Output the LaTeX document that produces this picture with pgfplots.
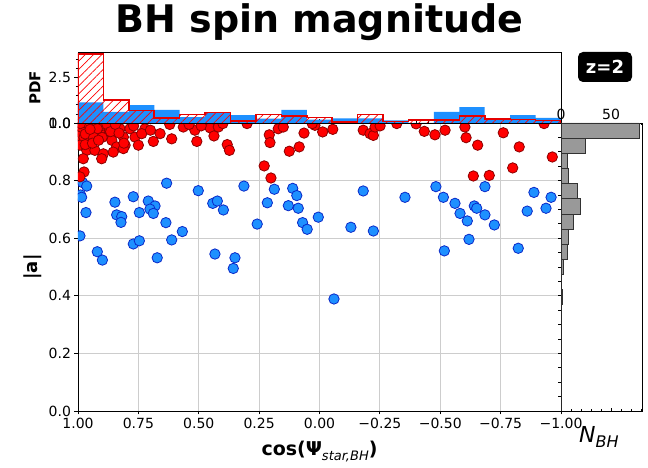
\documentclass[border=0pt]{standalone}
\usepackage{fontspec}
\setmainfont{DejaVu Sans}
\usepackage{pgfplots}
\pgfplotsset{compat=1.18}
\usetikzlibrary{patterns.meta}
\definecolor{dblue}{RGB}{30,144,255}
\definecolor{dblueedge}{RGB}{10,40,200}
\definecolor{redge}{RGB}{140,0,0}
\definecolor{hgray}{RGB}{153,153,153}
\definecolor{hedge}{RGB}{50,50,50}
\definecolor{gridc}{RGB}{205,205,205}
\pgfplotsset{
  every axis/.append style={scale only axis,
    axis line style={line width=0.9bp},
    tick style={line width=0.8bp, black},
    major tick length=3.5bp, minor tick length=2bp,
    tick label style={font=\fontsize{14bp}{16bp}\selectfont},
    /pgf/number format/assume math mode=true},
}
\begin{document}
\begin{tikzpicture}
\path[use as bounding box] (0,0) rectangle (648bp,468bp);

% ---------------- main scatter ----------------
\begin{axis}[at={(78bp,57bp)}, anchor=south west, width=483bp, height=288bp,
  xmin=-1, xmax=1, ymin=0, ymax=1, x dir=reverse,
  xtick={-1,-0.75,-0.5,-0.25,0,0.25,0.5,0.75,1},
  xticklabels={−1.00,−0.75,−0.50,−0.25,0.00,0.25,0.50,0.75,1.00},
  ytick={0,0.2,0.4,0.6,0.8,1},
  yticklabels={0.0,0.2,0.4,0.6,0.8,1.0},
  tick align=outside, tick pos=left,
  grid=major, grid style={gridc, line width=0.8bp},
  clip mode=individual, clip marker paths=true]
\addplot[only marks, mark=*, mark size=5.2bp, mark options={fill=dblue, draw=dblueedge, line width=0.8bp}] coordinates {
(0.981,0.793) (0.633,0.791) (0.964,0.781) (0.989,0.750) (0.985,0.742) (0.771,0.744)
(0.502,0.765) (0.313,0.781) (0.187,0.770) (0.111,0.773) (0.094,0.748) (-0.181,0.764)
(-0.354,0.742) (-0.482,0.779) (-0.513,0.742) (-0.685,0.779) (-0.888,0.759) (-0.959,0.742)
(0.967,0.689) (0.847,0.725) (0.746,0.689) (0.709,0.729) (0.681,0.712) (0.702,0.701)
(0.688,0.686) (0.442,0.721) (0.423,0.729) (0.398,0.698) (0.216,0.723) (0.129,0.713)
(0.088,0.704) (-0.561,0.721) (-0.582,0.686) (-0.641,0.712) (-0.651,0.704) (-0.860,0.694)
(-0.938,0.704) (0.840,0.681) (0.819,0.675) (0.822,0.655) (0.636,0.654) (0.258,0.649)
(0.070,0.654) (0.005,0.673) (-0.130,0.638) (-0.612,0.660) (-0.685,0.681) (-0.724,0.646)
(0.992,0.608) (0.771,0.580) (0.746,0.591) (0.612,0.594) (0.568,0.623) (0.051,0.631)
(-0.223,0.625) (-0.619,0.596) (0.920,0.553) (0.672,0.532) (0.433,0.545) (0.350,0.532)
(-0.517,0.556) (-0.823,0.565) (0.899,0.524) (0.357,0.495) (-0.060,0.389)
};
\addplot[only marks, mark=*, mark size=5.2bp, mark options={fill=red, draw=redge, line width=0.8bp}] coordinates {
(0.978,0.986) (0.950,0.992) (0.916,0.986) (0.875,0.980) (0.854,0.986) (0.826,0.980)
(0.785,0.980) (0.723,0.980) (0.660,0.963) (0.612,0.945) (0.564,0.986) (0.516,0.975)
(0.508,0.936) (0.950,0.945) (0.902,0.957) (0.860,0.959) (0.860,0.940) (0.812,0.951)
(0.764,0.951) (0.736,0.963) (0.688,0.936) (0.750,0.923) (0.805,0.923) (0.840,0.917)
(0.964,0.905) (0.930,0.905) (0.812,0.911) (0.992,0.958) (0.854,0.899) (0.895,0.893)
(0.902,0.876) (0.978,0.876) (0.975,0.830) (0.992,0.813) (0.453,0.983) (0.419,0.986)
(0.437,0.955) (0.382,0.925) (0.373,0.905) (0.208,0.959) (0.205,0.932) (0.171,0.980)
(0.150,0.986) (0.064,0.965) (0.125,0.902) (0.084,0.917) (0.019,0.992) (-0.013,0.969)
(-0.055,0.978) (-0.181,0.975) (-0.209,0.963) (-0.223,0.957) (-0.230,0.986) (-0.251,0.990)
(0.229,0.851) (0.201,0.809) (-0.434,0.971) (-0.478,0.959) (-0.520,0.975) (-0.602,0.986)
(-0.607,0.949) (-0.655,0.923) (-0.761,0.966) (-0.827,0.917) (-0.964,0.882) (-0.800,0.844)
(-0.637,0.816) (-0.703,0.818)
(1.000,1.000) (0.995,0.990) (0.990,0.975) (0.985,0.965) (0.998,0.955) (0.970,0.995)
(0.965,0.975) (0.960,0.960) (0.955,0.970) (0.940,0.985) (0.935,0.965) (0.930,0.975)
(0.925,0.995) (0.920,0.960) (0.910,0.970) (0.905,0.990) (0.945,0.955) (0.975,0.950)
(0.985,0.985) (0.900,0.950) (0.960,0.998) (0.920,0.980) (0.970,0.962) (0.935,0.950)
(0.990,0.998) (0.992,0.923) (0.970,0.925) (0.940,0.930) (0.915,0.940) (0.950,0.978)
(0.880,0.995) (0.865,0.970) (0.845,0.995) (0.830,0.965) (0.810,0.930)
(0.770,0.990) (0.700,0.975) (0.620,0.995) (0.540,0.995) (0.490,0.990) (0.400,0.998)
(0.300,0.998) (0.030,0.998) (-0.320,0.998) (-0.400,0.997) (-0.930,0.998)
};
\end{axis}

% ---------------- top histogram ----------------
\begin{axis}[at={(78bp,345bp)}, anchor=south west, width=483bp, height=71bp,
  xmin=-1, xmax=1, ymin=0, ymax=3.92, x dir=reverse,
  axis background/.style={fill=white},
  xtick={-1,-0.75,-0.5,-0.25,0,0.25,0.5,0.75,1}, xticklabels={},
  minor x tick num=4,
  ytick={0,2.5}, yticklabels={0.0,2.5},
  minor ytick={0.5,1,1.5,2,3,3.5},
  tick pos=left, xtick align=inside, ytick align=outside]
\addplot[ybar interval, fill=dblue, draw=none] coordinates {
(-1,0.28) (-0.8947,0.44) (-0.7895,0.18) (-0.6842,0.88) (-0.5789,0.61) (-0.4737,0.0)
(-0.3684,0.15) (-0.2632,0.26) (-0.1579,0.26) (-0.0526,0.19) (0.0526,0.72) (0.1579,0.24)
(0.2632,0.44) (0.3684,0.57) (0.4737,0.33) (0.5789,0.72) (0.6842,0.99) (0.7895,0.61)
(0.8947,1.14) (1,1.14)
};
\addplot[ybar interval, draw=none, pattern={Lines[angle=45,distance=5.8bp,line width=0.7bp]}, pattern color=red] coordinates {
(-1,0.13) (-0.8947,0.20) (-0.7895,0.22) (-0.6842,0.37) (-0.5789,0.18) (-0.4737,0.15)
(-0.3684,0.08) (-0.2632,0.48) (-0.1579,0.07) (-0.0526,0.30) (0.0526,0.39) (0.1579,0.48)
(0.2632,0.11) (0.3684,0.57) (0.4737,0.46) (0.5789,0.28) (0.6842,0.68) (0.7895,1.27)
(0.8947,3.80) (1,3.80)
};
\addplot[red!90!black, line width=1.6bp, const plot] coordinates {
(-1,0) (-1,0.13) (-0.8947,0.20) (-0.7895,0.22) (-0.6842,0.37) (-0.5789,0.18) (-0.4737,0.15)
(-0.3684,0.08) (-0.2632,0.48) (-0.1579,0.07) (-0.0526,0.30) (0.0526,0.39) (0.1579,0.48)
(0.2632,0.11) (0.3684,0.57) (0.4737,0.46) (0.5789,0.28) (0.6842,0.68) (0.7895,1.27)
(0.8947,3.80) (1,3.80) (1,0)
};
\end{axis}

% ---------------- right histogram ----------------
\begin{axis}[at={(561bp,57bp)}, anchor=south west, width=81bp, height=288bp,
  xmin=0, xmax=81, ymin=0, ymax=1,
  xtick={0,50}, xticklabels={0,50}, minor xtick={10,20,30,40,60,70,80},
  xtick pos=both, xticklabel pos=right, xtick align=inside,
  ytick={0.05,0.1,0.15,0.2,0.25,0.3,0.35,0.4,0.45,0.5,0.55,0.6,0.65,0.7,0.75,0.8,0.85,0.9,0.95},
  yticklabels={}, ytick pos=left, ytick align=outside, major tick length=3bp]
\addplot[xbar interval, fill=hgray, draw=hedge, line width=0.8bp] coordinates {
(0,0) (0,0.05263) (0,0.10526) (0,0.15789) (0,0.21053) (0,0.26316) (0,0.31579)
(1,0.36842) (0,0.42105) (2,0.47368) (6,0.52632) (7,0.57895) (12,0.63158)
(19,0.68421) (16,0.73684) (7,0.78947) (6,0.84211) (24,0.89474) (78,0.94737) (78,1)
};
\end{axis}

% ---------------- texts ----------------
\node[anchor=base, font=\fontsize{38bp}{40bp}\selectfont\bfseries] at (319.5bp,435bp) {BH spin magnitude};
\node[fill=black, rounded corners=5bp, minimum width=54bp, minimum height=30bp, inner sep=0pt,
      text=white, font=\fontsize{18bp}{20bp}\selectfont\bfseries] at (605bp,401bp) {z=2};
\node[rotate=90, font=\fontsize{15bp}{17bp}\selectfont\bfseries] at (35bp,380bp) {PDF};
\node[rotate=90, font=\fontsize{18bp}{20bp}\selectfont\bfseries] at (33bp,201bp) {|a|};
\node[anchor=base, font=\fontsize{19bp}{21bp}\selectfont] at (319.5bp,13bp)
  {\textbf{cos(Ψ}\raisebox{-0.28em}{\fontsize{13bp}{14bp}\selectfont\itshape star,BH}\textbf{)}};
\node[anchor=base west, inner sep=0pt, font=\fontsize{22bp}{24bp}\selectfont\itshape] at (579bp,26bp)
  {N\raisebox{-0.25em}{\fontsize{16bp}{17bp}\selectfont BH}};
\end{tikzpicture}
\end{document}
